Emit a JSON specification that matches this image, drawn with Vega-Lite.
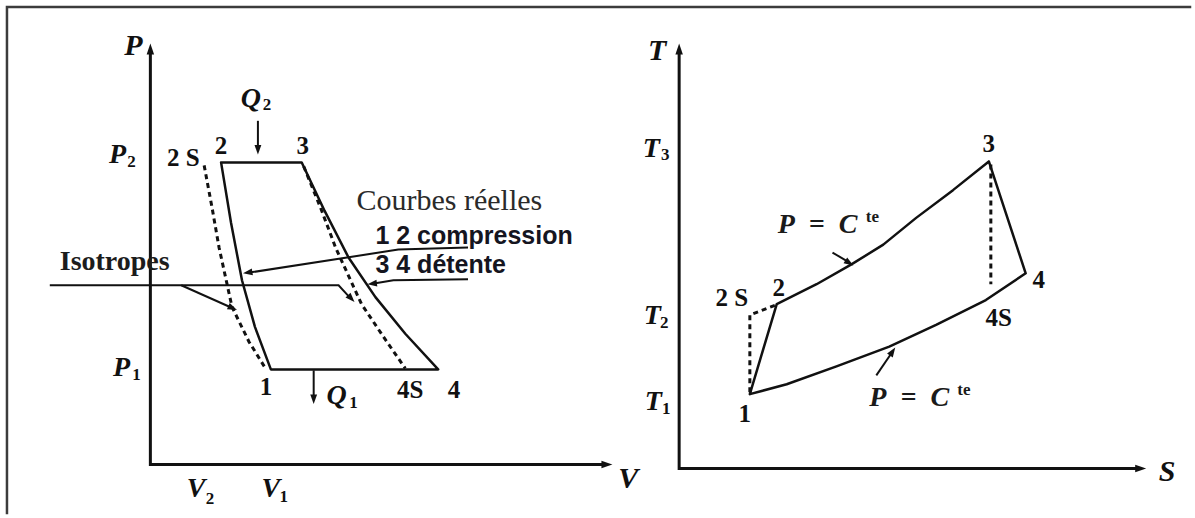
{
  "$schema": "https://vega.github.io/schema/vega-lite/v6.json",
  "width": 1195,
  "height": 518,
  "autosize": {"type": "fit", "contains": "padding"},
  "padding": 0,
  "background": "white",
  "config": {"view": {"stroke": null}},
  "encoding": {
    "x": {"field": "x", "type": "quantitative", "scale": {"domain": [0, 1195], "nice": false, "zero": false}, "axis": null},
    "y": {"field": "y", "type": "quantitative", "scale": {"domain": [0, 518], "nice": false, "zero": false, "reverse": true}, "axis": null}
  },
  "datasets": {
    "frame": [
      {"id": "f", "o": 0, "x": 7, "y": 518}, {"id": "f", "o": 1, "x": 7, "y": 7}, {"id": "f", "o": 2, "x": 1195, "y": 7}
    ],
    "axes": [
      {"id": "pv", "o": 0, "x": 151, "y": 52}, {"id": "pv", "o": 1, "x": 151, "y": 469}, {"id": "pv", "o": 2, "x": 606, "y": 469},
      {"id": "ts", "o": 0, "x": 682, "y": 52}, {"id": "ts", "o": 1, "x": 682, "y": 473}, {"id": "ts", "o": 2, "x": 1142, "y": 473}
    ],
    "cycles": [
      {"id": "pv", "o": 0, "x": 222, "y": 164}, {"id": "pv", "o": 1, "x": 303, "y": 164}, {"id": "pv", "o": 2, "x": 326, "y": 213},
      {"id": "pv", "o": 3, "x": 350, "y": 260}, {"id": "pv", "o": 4, "x": 377, "y": 300}, {"id": "pv", "o": 5, "x": 407, "y": 337},
      {"id": "pv", "o": 6, "x": 440, "y": 373}, {"id": "pv", "o": 7, "x": 272, "y": 373}, {"id": "pv", "o": 8, "x": 256, "y": 330},
      {"id": "pv", "o": 9, "x": 243, "y": 283}, {"id": "pv", "o": 10, "x": 232, "y": 225}, {"id": "pv", "o": 11, "x": 222, "y": 164},
      {"id": "ts", "o": 0, "x": 753, "y": 398}, {"id": "ts", "o": 1, "x": 780, "y": 307}, {"id": "ts", "o": 2, "x": 820, "y": 287},
      {"id": "ts", "o": 3, "x": 855, "y": 267}, {"id": "ts", "o": 4, "x": 887, "y": 247}, {"id": "ts", "o": 5, "x": 920, "y": 220},
      {"id": "ts", "o": 6, "x": 957, "y": 192}, {"id": "ts", "o": 7, "x": 993, "y": 163}, {"id": "ts", "o": 8, "x": 1030, "y": 276},
      {"id": "ts", "o": 9, "x": 990, "y": 303}, {"id": "ts", "o": 10, "x": 940, "y": 328}, {"id": "ts", "o": 11, "x": 893, "y": 350},
      {"id": "ts", "o": 12, "x": 840, "y": 370}, {"id": "ts", "o": 13, "x": 790, "y": 388}, {"id": "ts", "o": 14, "x": 753, "y": 398}
    ],
    "isentropes": [
      {"id": "d1", "o": 0, "x": 205, "y": 167}, {"id": "d1", "o": 1, "x": 213, "y": 210}, {"id": "d1", "o": 2, "x": 220, "y": 250},
      {"id": "d1", "o": 3, "x": 233, "y": 310}, {"id": "d1", "o": 4, "x": 250, "y": 345}, {"id": "d1", "o": 5, "x": 266, "y": 371},
      {"id": "d2", "o": 0, "x": 305, "y": 168}, {"id": "d2", "o": 1, "x": 322, "y": 210}, {"id": "d2", "o": 2, "x": 337, "y": 250},
      {"id": "d2", "o": 3, "x": 363, "y": 307}, {"id": "d2", "o": 4, "x": 385, "y": 340}, {"id": "d2", "o": 5, "x": 407, "y": 372},
      {"id": "d3", "o": 0, "x": 753, "y": 396}, {"id": "d3", "o": 1, "x": 753, "y": 318}, {"id": "d3", "o": 2, "x": 779, "y": 308},
      {"id": "d4", "o": 0, "x": 995, "y": 166}, {"id": "d4", "o": 1, "x": 995, "y": 287}
    ],
    "pointers": [
      {"id": "q2", "o": 0, "x": 259, "y": 122}, {"id": "q2", "o": 1, "x": 259, "y": 148},
      {"id": "q1", "o": 0, "x": 315, "y": 374}, {"id": "q1", "o": 1, "x": 315, "y": 400},
      {"id": "iso", "o": 0, "x": 50, "y": 288}, {"id": "iso", "o": 1, "x": 340, "y": 288}, {"id": "iso", "o": 2, "x": 350, "y": 299},
      {"id": "iso2", "o": 0, "x": 182, "y": 288}, {"id": "iso2", "o": 1, "x": 231, "y": 310},
      {"id": "comp", "o": 0, "x": 470, "y": 250}, {"id": "comp", "o": 1, "x": 400, "y": 252}, {"id": "comp", "o": 2, "x": 252, "y": 275},
      {"id": "det", "o": 0, "x": 470, "y": 282}, {"id": "det", "o": 1, "x": 395, "y": 283}, {"id": "det", "o": 2, "x": 377, "y": 286},
      {"id": "up", "o": 0, "x": 836, "y": 255}, {"id": "up", "o": 1, "x": 851, "y": 264},
      {"id": "lo", "o": 0, "x": 880, "y": 379}, {"id": "lo", "o": 1, "x": 895, "y": 357}
    ],
    "axisHeads": [
      {"x": 151, "y": 44, "h": 0}, {"x": 615, "y": 469, "h": 90},
      {"x": 682, "y": 44, "h": 0}, {"x": 1151, "y": 473, "h": 90}
    ],
    "pointerHeads": [
      {"x": 259, "y": 156, "h": 180}, {"x": 315, "y": 408, "h": 180},
      {"x": 356, "y": 305, "h": 137}, {"x": 238, "y": 313, "h": 114},
      {"x": 244, "y": 276, "h": 261}, {"x": 369, "y": 287, "h": 263},
      {"x": 857, "y": 268, "h": 122}, {"x": 899, "y": 351, "h": 34}
    ],
    "points": [
      {"t": "2", "x": 222, "y": 147}, {"t": "3", "x": 304, "y": 147}, {"t": "2 S", "x": 184, "y": 160},
      {"t": "1", "x": 267, "y": 391}, {"t": "4S", "x": 412, "y": 394}, {"t": "4", "x": 456, "y": 394},
      {"t": "3", "x": 993, "y": 145}, {"t": "4", "x": 1043, "y": 283}, {"t": "4S", "x": 1003, "y": 321},
      {"t": "2 S", "x": 735, "y": 301}, {"t": "2", "x": 782, "y": 291}, {"t": "1", "x": 748, "y": 418}
    ],
    "axisNames": [
      {"t": "P", "x": 134, "y": 46}, {"t": "V", "x": 631, "y": 484},
      {"t": "T", "x": 660, "y": 52}, {"t": "S", "x": 1172, "y": 477}
    ],
    "symbols": [
      {"t": "P", "x": 118, "y": 157}, {"t": "P", "x": 122, "y": 372},
      {"t": "V", "x": 197, "y": 494}, {"t": "V", "x": 272, "y": 494},
      {"t": "T", "x": 654, "y": 150}, {"t": "T", "x": 655, "y": 319}, {"t": "T", "x": 656, "y": 406},
      {"t": "Q", "x": 252, "y": 100}, {"t": "Q", "x": 338, "y": 400}
    ],
    "subscripts": [
      {"t": "2", "x": 132, "y": 164}, {"t": "1", "x": 137, "y": 379},
      {"t": "2", "x": 211, "y": 504}, {"t": "1", "x": 285, "y": 502},
      {"t": "3", "x": 668, "y": 157}, {"t": "2", "x": 667, "y": 326}, {"t": "1", "x": 669, "y": 413},
      {"t": "2", "x": 268, "y": 106}, {"t": "1", "x": 355, "y": 407}
    ],
    "isobars": [
      {"t": "P\u2002=\u2002C", "x": 821, "y": 227}, {"t": "P\u2002=\u2002C", "x": 913, "y": 402}
    ],
    "superscripts": [
      {"t": "te", "x": 876, "y": 219}, {"t": "te", "x": 968, "y": 394}
    ],
    "serifNotes": [
      {"t": "Isotropes", "x": 60, "y": 265, "w": "b"},
      {"t": "Courbes réelles", "x": 358, "y": 203, "w": "n"}
    ],
    "sansNotes": [
      {"t": "1 2 compression", "x": 377, "y": 238},
      {"t": "3 4 détente", "x": 377, "y": 268}
    ]
  },
  "layer": [
    {
      "data": {"name": "frame"},
      "mark": {"type": "line", "color": "#3c3c3c", "strokeWidth": 2.5, "strokeCap": "square"},
      "encoding": {"order": {"field": "o"}, "detail": {"field": "id"}}
    },
    {
      "data": {"name": "axes"},
      "mark": {"type": "line", "color": "#111111", "strokeWidth": 3},
      "encoding": {"order": {"field": "o"}, "detail": {"field": "id"}}
    },
    {
      "data": {"name": "cycles"},
      "mark": {"type": "line", "color": "#111111", "strokeWidth": 2.5, "strokeJoin": "round", "strokeCap": "round"},
      "encoding": {"order": {"field": "o"}, "detail": {"field": "id"}}
    },
    {
      "data": {"name": "isentropes"},
      "mark": {"type": "line", "color": "#111111", "strokeWidth": 3, "strokeDash": [5, 4]},
      "encoding": {"order": {"field": "o"}, "detail": {"field": "id"}}
    },
    {
      "data": {"name": "pointers"},
      "mark": {"type": "line", "color": "#111111", "strokeWidth": 2},
      "encoding": {"order": {"field": "o"}, "detail": {"field": "id"}}
    },
    {
      "data": {"name": "axisHeads"},
      "mark": {"type": "point", "shape": "M0,0L0.34,1L-0.34,1Z", "filled": true, "color": "#111111", "opacity": 1, "size": 484},
      "encoding": {"angle": {"field": "h", "type": "quantitative", "scale": null}}
    },
    {
      "data": {"name": "pointerHeads"},
      "mark": {"type": "point", "shape": "M0,0L0.36,1L-0.36,1Z", "filled": true, "color": "#111111", "opacity": 1, "size": 361},
      "encoding": {"angle": {"field": "h", "type": "quantitative", "scale": null}}
    },
    {
      "data": {"name": "points"},
      "mark": {"type": "text", "font": "Liberation Serif", "fontWeight": "bold", "fontSize": 25, "color": "#111111", "align": "center", "baseline": "middle"},
      "encoding": {"text": {"field": "t"}}
    },
    {
      "data": {"name": "axisNames"},
      "mark": {"type": "text", "font": "Liberation Serif", "fontStyle": "italic", "fontWeight": "bold", "fontSize": 30, "color": "#111111", "align": "center", "baseline": "middle"},
      "encoding": {"text": {"field": "t"}}
    },
    {
      "data": {"name": "symbols"},
      "mark": {"type": "text", "font": "Liberation Serif", "fontStyle": "italic", "fontWeight": "bold", "fontSize": 28, "color": "#111111", "align": "center", "baseline": "middle"},
      "encoding": {"text": {"field": "t"}}
    },
    {
      "data": {"name": "subscripts"},
      "mark": {"type": "text", "font": "Liberation Serif", "fontWeight": "bold", "fontSize": 17, "color": "#111111", "align": "center", "baseline": "middle"},
      "encoding": {"text": {"field": "t"}}
    },
    {
      "data": {"name": "isobars"},
      "mark": {"type": "text", "font": "Liberation Serif", "fontStyle": "italic", "fontWeight": "bold", "fontSize": 28, "color": "#1a1a1a", "align": "center", "baseline": "middle"},
      "encoding": {"text": {"field": "t"}}
    },
    {
      "data": {"name": "superscripts"},
      "mark": {"type": "text", "font": "Liberation Serif", "fontWeight": "bold", "fontSize": 17, "color": "#1a1a1a", "align": "center", "baseline": "middle"},
      "encoding": {"text": {"field": "t"}}
    },
    {
      "data": {"name": "serifNotes"},
      "transform": [{"filter": "datum.w == 'b'"}],
      "mark": {"type": "text", "font": "Liberation Serif", "fontWeight": "bold", "fontSize": 28, "color": "#1c1c1c", "align": "left", "baseline": "middle"},
      "encoding": {"text": {"field": "t"}}
    },
    {
      "data": {"name": "serifNotes"},
      "transform": [{"filter": "datum.w == 'n'"}],
      "mark": {"type": "text", "font": "Liberation Serif", "fontSize": 30, "color": "#2a2a2a", "align": "left", "baseline": "middle"},
      "encoding": {"text": {"field": "t"}}
    },
    {
      "data": {"name": "sansNotes"},
      "mark": {"type": "text", "font": "Liberation Sans", "fontWeight": "bold", "fontSize": 25, "color": "#15151f", "align": "left", "baseline": "middle"},
      "encoding": {"text": {"field": "t"}}
    }
  ]
}
